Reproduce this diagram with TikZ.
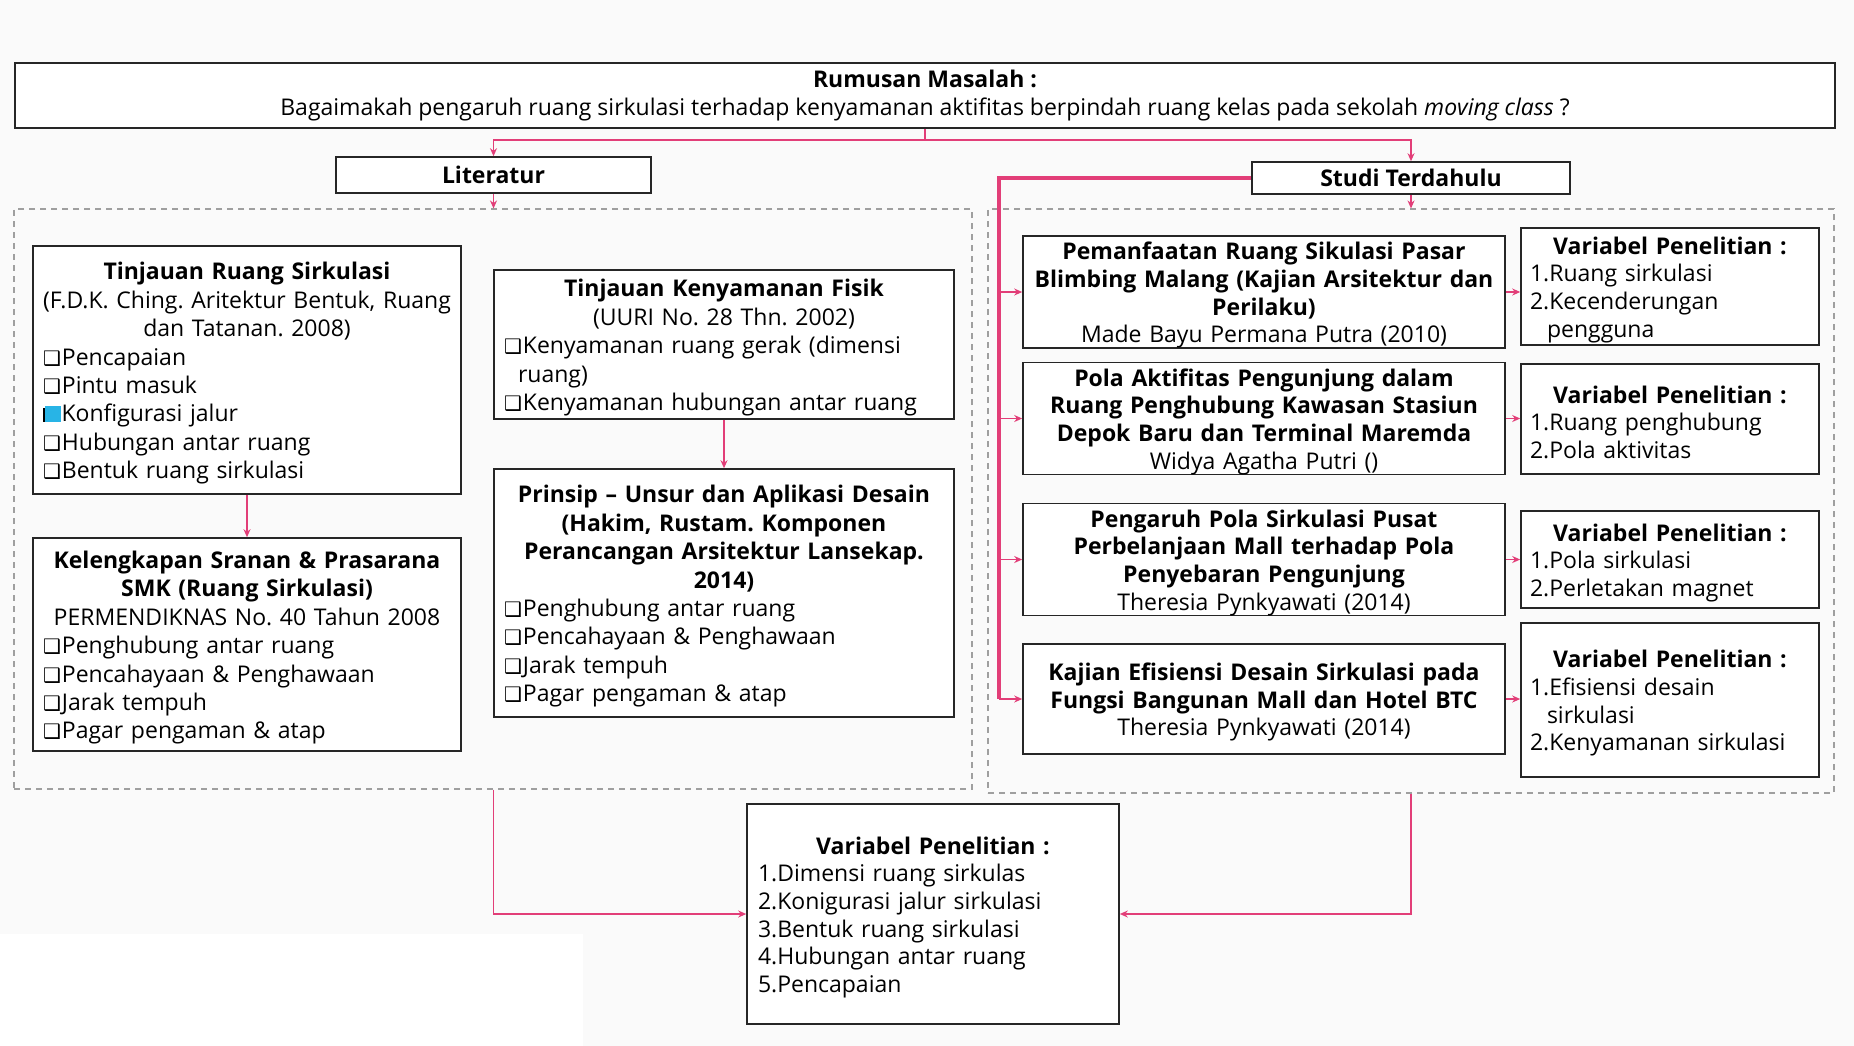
\documentclass[tikz,border=0pt]{standalone}
\usepackage{fontspec}
\setmainfont{Open Sans}
\newfontfamily\dejavu{DejaVu Sans}
\usetikzlibrary{arrows.meta}
\definecolor{conpink}{RGB}{226,62,120}
\definecolor{bgc}{RGB}{250,250,250}
\definecolor{hlc}{RGB}{40,180,230}
\frenchspacing
\newcommand\lf{\fontsize{23}{28.4}\selectfont\frenchspacing}
\newcommand\rf{\fontsize{23}{27.6}\selectfont\frenchspacing}
\newcommand\Cen[1]{\hbox to \hsize{\hss #1\hss}}
\newcommand\Lft[1]{\hbox to \hsize{#1\hss}}
\newcommand\Fc[1]{\hbox to \hsize{\hss\rule{0pt}{24pt}#1\hss}}
\newcommand\bul{{\dejavu\bfseries\fontsize{20}{20}\selectfont ❑}\kern1pt}
\newcommand\hbul{\rule{2pt}{14pt}\textcolor{hlc}{\rule{16pt}{16pt}}\kern0.5pt}
\begin{document}
\begin{tikzpicture}[x=1pt,y=-1pt,
  lbox/.style={draw=black!85,line width=1.6pt,fill=white,inner xsep=10pt,inner ysep=0pt,font=\lf},
  rbox/.style={draw=black!85,line width=1.6pt,fill=white,inner xsep=6pt,inner ysep=0pt,font=\rf},
  vbx/.style={rbox,inner xsep=9pt},
  dbox/.style={draw=gray!75,line width=1.1pt,dash pattern=on 6pt off 5pt,inner sep=0pt},
  conn/.style={draw=conpink,line width=1.6pt},
  arr/.style={conn,-{Stealth[length=8pt,width=7pt]}},
  trunk/.style={draw=conpink,line width=3.5pt}]
\fill[bgc] (0,0) rectangle (1854,1046);
\fill[white] (0,934) rectangle (583,1046);
\useasboundingbox (0,0) rectangle (1854,1046);
% dashed regions
\node[dbox,minimum width=958pt,minimum height=580pt] (ldash) at (493,499) {};
\node[dbox,minimum width=846pt,minimum height=584pt] (rdash) at (1411,501) {};
% top
\node[rbox,line width=2pt,align=center,minimum width=1820pt,minimum height=65pt] (top) at (925,95.5)
  {\textbf{Rumusan Masalah :}\\Bagaimakah pengaruh ruang sirkulasi terhadap kenyamanan aktifitas berpindah ruang kelas pada sekolah {\itshape moving class} ?};
\node[rbox,minimum width=315pt,minimum height=36pt] (lit) at (493.5,175) {\bfseries Literatur};
\node[rbox,minimum width=318pt,minimum height=32pt] (studi) at (1411,178) {\bfseries Studi Terdahulu};
% left column
\node[lbox,text width=408pt,minimum height=248pt] (T1) at (247,370) {%
  \Fc{\bfseries Tinjauan Ruang Sirkulasi}
  \Cen{(F.D.K. Ching. Aritektur Bentuk, Ruang}
  \Cen{dan Tatanan. 2008)}
  \Lft{\bul Pencapaian}
  \Lft{\bul Pintu masuk}
  \Lft{\hbul Konfigurasi jalur}
  \Lft{\bul Hubungan antar ruang}
  \Lft{\bul Bentuk ruang sirkulasi}};
\node[lbox,text width=408pt,minimum height=213pt] (K) at (247,644.5) {%
  \Fc{\bfseries Kelengkapan Sranan \& Prasarana}
  \Cen{\bfseries SMK (Ruang Sirkulasi)}
  \Cen{PERMENDIKNAS No. 40 Tahun 2008}
  \Lft{\bul Penghubung antar ruang}
  \Lft{\bul Pencahayaan \& Penghawaan}
  \Lft{\bul Jarak tempuh}
  \Lft{\bul Pagar pengaman \& atap}};
% middle column
\node[lbox,text width=440pt,minimum height=149pt] (T2) at (724,344.5) {%
  \Fc{\bfseries Tinjauan Kenyamanan Fisik}
  \Cen{(UURI No. 28 Thn. 2002)}
  \Lft{\bul Kenyamanan ruang gerak (dimensi}
  \Lft{\hspace*{14pt}ruang)}
  \Lft{\bul Kenyamanan hubungan antar ruang}};
\node[lbox,text width=440pt,minimum height=248pt] (P) at (724,593) {%
  \Fc{\bfseries Prinsip – Unsur dan Aplikasi Desain}
  \Cen{\bfseries (Hakim, Rustam. Komponen}
  \Cen{\bfseries Perancangan Arsitektur Lansekap.}
  \Cen{\bfseries 2014)}
  \Lft{\bul Penghubung antar ruang}
  \Lft{\bul Pencahayaan \& Penghawaan}
  \Lft{\bul Jarak tempuh}
  \Lft{\bul Pagar pengaman \& atap}};
% studies
\node[rbox,text width=470pt,minimum height=112pt] (S1) at (1264,292) {%
  \Fc{\bfseries Pemanfaatan Ruang Sikulasi Pasar}
  \Cen{\bfseries Blimbing Malang (Kajian Arsitektur dan}
  \Cen{\bfseries Perilaku)}
  \Cen{Made Bayu Permana Putra (2010)}};
\node[rbox,text width=470pt,minimum height=111pt] (S2) at (1264,418.5) {%
  \Fc{\bfseries Pola Aktifitas Pengunjung dalam}
  \Cen{\bfseries Ruang Penghubung Kawasan Stasiun}
  \Cen{\bfseries Depok Baru dan Terminal Maremda}
  \Cen{Widya Agatha Putri ()}};
\node[rbox,text width=470pt,minimum height=109pt] (S3) at (1264,559.5) {%
  \Fc{\bfseries Pengaruh Pola Sirkulasi Pusat}
  \Cen{\bfseries Perbelanjaan Mall terhadap Pola}
  \Cen{\bfseries Penyebaran Pengunjung}
  \Cen{Theresia Pynkyawati (2014)}};
\node[rbox,text width=470pt,minimum height=110pt] (S4) at (1264,699) {%
  \Fc{\bfseries Kajian Efisiensi Desain Sirkulasi pada}
  \Cen{\bfseries Fungsi Bangunan Mall dan Hotel BTC}
  \Cen{Theresia Pynkyawati (2014)}};
% variables
\node[vbx,text width=280pt,minimum height=117pt] (V1) at (1670,286.5) {%
  \Fc{\bfseries Variabel Penelitian :}
  \Lft{1.Ruang sirkulasi}
  \Lft{2.Kecenderungan}
  \Lft{\hspace*{17pt}pengguna}};
\node[vbx,text width=280pt,minimum height=110pt] (V2) at (1670,419) {%
  \Fc{\bfseries Variabel Penelitian :}
  \Lft{1.Ruang penghubung}
  \Lft{2.Pola aktivitas}};
\node[vbx,text width=280pt,minimum height=97pt] (V3) at (1670,559.5) {%
  \Fc{\bfseries Variabel Penelitian :}
  \Lft{1.Pola sirkulasi}
  \Lft{2.Perletakan magnet}};
\node[vbx,text width=280pt,minimum height=154pt] (V4) at (1670,700) {%
  \Fc{\bfseries Variabel Penelitian :}
  \Lft{1.Efisiensi desain}
  \Lft{\hspace*{17pt}sirkulasi}
  \Lft{2.Kenyamanan sirkulasi}};
% bottom
\node[rbox,inner xsep=11pt,text width=350pt,minimum height=220pt] (B) at (933,914) {%
  \Fc{\bfseries Variabel Penelitian :}
  \Lft{1.Dimensi ruang sirkulas}
  \Lft{2.Konigurasi jalur sirkulasi}
  \Lft{3.Bentuk ruang sirkulasi}
  \Lft{4.Hubungan antar ruang}
  \Lft{5.Pencapaian}};
% connectors
\coordinate (j) at (925,140);
\coordinate (tx) at (999,178);
\draw[conn] (top.south) -- (j);
\draw[arr] (j) -| (lit.north);
\draw[arr] (j) -| (studi.north);
\draw[arr] (lit.south) -- (lit.south |- ldash.north);
\draw[arr] (studi.south) -- (studi.south |- rdash.north);
\draw[arr] (T1.south) -- (K.north);
\draw[arr] (T2.south) -- (P.north);
\draw[trunk] (studi.west) -- (tx) -- (tx |- S4.west);
\foreach \s in {S1,S2,S3,S4} \draw[arr] (tx |- \s.west) -- (\s.west);
\foreach \s/\v in {S1/V1,S2/V2,S3/V3,S4/V4} \draw[arr] (\s.east) -- (\s.east -| \v.west);
\draw[arr] (lit.south |- ldash.south) |- (B.west);
\draw[arr] (studi.south |- rdash.south) |- (B.east);
\end{tikzpicture}
\end{document}
